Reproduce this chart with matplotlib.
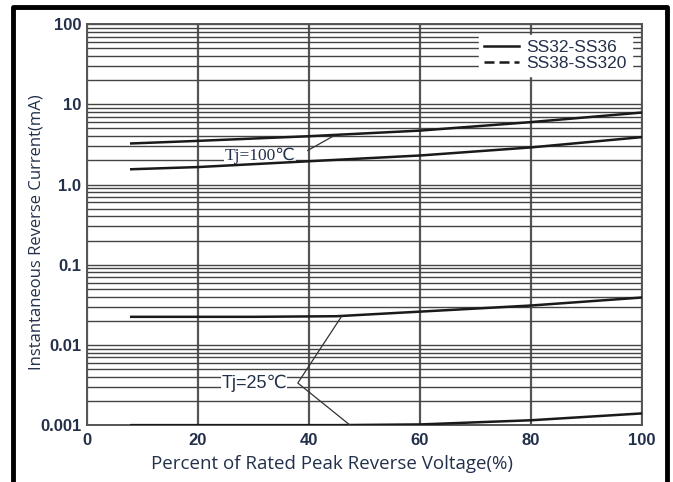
import matplotlib
matplotlib.use("Agg")
from matplotlib import pyplot as plt
from matplotlib.lines import Line2D

# 100 C curves
x_hot = [8, 20, 40, 60, 80, 100]
y_hot_a = [3.25, 3.5, 4.0, 4.7, 6.0, 7.9]
y_hot_b = [1.55, 1.65, 1.95, 2.3, 2.9, 3.9]

# 25 C curves
x_cold = [8, 20, 30, 45, 60, 80, 100]
y_cold_a = [0.0224, 0.0224, 0.0224, 0.0228, 0.026, 0.031, 0.039]
y_cold_b = [0.001, 0.001, 0.001, 0.001, 0.00102, 0.00115, 0.0014]

y_ticks = [0.001, 0.01, 0.1, 1.0, 10, 100]
y_tick_labels = ["0.001", "0.01", "0.1", "1.0", "10", "100"]
x_ticks = [0, 20, 40, 60, 80, 100]

txt_col = "#22304a"

fig = plt.figure(figsize=(6.73, 4.82), dpi=100)
ax = fig.add_axes([0.129, 0.118, 0.825, 0.832])

# outer frame
fig.add_artist(Line2D([0.019, 0.019, 0.991, 0.991], [0.0, 0.985, 0.985, 0.0],
                      transform=fig.transFigure, color="black", linewidth=3.5))

ax.set_yscale("log")
ax.set_xlim(0, 100)
ax.set_ylim(0.001, 100)
ax.grid(True, which="major", axis="x", color="#555555", linewidth=1.6)
ax.grid(True, which="both", axis="y", color="#444444", linewidth=1.0)
for s in ax.spines.values():
    s.set_color("#555555")
    s.set_linewidth(1.4)

ax.set_yticks(y_ticks)
ax.set_yticklabels(y_tick_labels)
ax.set_xticks(x_ticks)
ax.tick_params(which="both", length=0, labelsize=12, colors=txt_col, pad=4)
ax.tick_params(axis="x", pad=6)
for lab in ax.get_xticklabels() + ax.get_yticklabels():
    lab.set_fontfamily("Liberation Sans")
    lab.set_fontweight("bold")

ax.plot(x_hot, y_hot_a, color="#1a1a1a", linewidth=1.8, zorder=3)
ax.plot(x_hot, y_hot_b, color="#1a1a1a", linewidth=1.8, zorder=3)
ax.plot(x_cold, y_cold_a, color="#1a1a1a", linewidth=1.8, zorder=3)
ax.plot(x_cold, y_cold_b, color="#1a1a1a", linewidth=1.8, zorder=3)

# annotations
ax.plot([39.8, 44.3], [2.66, 3.98], color="#333333", linewidth=0.9, zorder=3)
ax.text(24.8, 2.25, "Tj=100℃", fontsize=12.5, family=["Liberation Serif", "DejaVu Sans"],
        color=txt_col, va="center", zorder=2.5,
        bbox=dict(facecolor="white", edgecolor="none", pad=0.3))
ax.plot([45.9, 38.0, 47.4], [0.0228, 0.00335, 0.001], color="#333333", linewidth=0.9,
        zorder=3)
ax.text(24.2, 0.00335, "Tj=25℃", fontsize=13, family=["Liberation Sans", "DejaVu Sans"],
        color=txt_col, va="center", zorder=2.5,
        bbox=dict(facecolor="white", edgecolor="none", pad=0.3))

handles = [Line2D([], [], color="#1a1a1a", linewidth=1.8),
           Line2D([], [], color="#1a1a1a", linewidth=1.8, linestyle=(0, (4, 2)))]
leg = ax.legend(handles, ["SS32-SS36", "SS38-SS320"], loc="upper right",
                bbox_to_anchor=(0.997, 0.995), frameon=True, fancybox=False,
                framealpha=1, edgecolor="white", handlelength=2.0,
                handletextpad=0.4, labelspacing=0.05, borderpad=0.3,
                prop={"family": "Liberation Sans", "size": 12.5})
for t in leg.get_texts():
    t.set_color(txt_col)

ax.set_xlabel("Percent of Rated Peak Reverse Voltage(%)", fontsize=13.5,
              family="Open Sans", color=txt_col)
ax.xaxis.set_label_coords(0.441, -0.075)
ax.set_ylabel("Instantaneous Reverse Current(mA)", fontsize=12,
              family="Open Sans", color=txt_col)
ax.yaxis.set_label_coords(-0.077, 0.48)

fig.savefig("out.png", dpi=100)
